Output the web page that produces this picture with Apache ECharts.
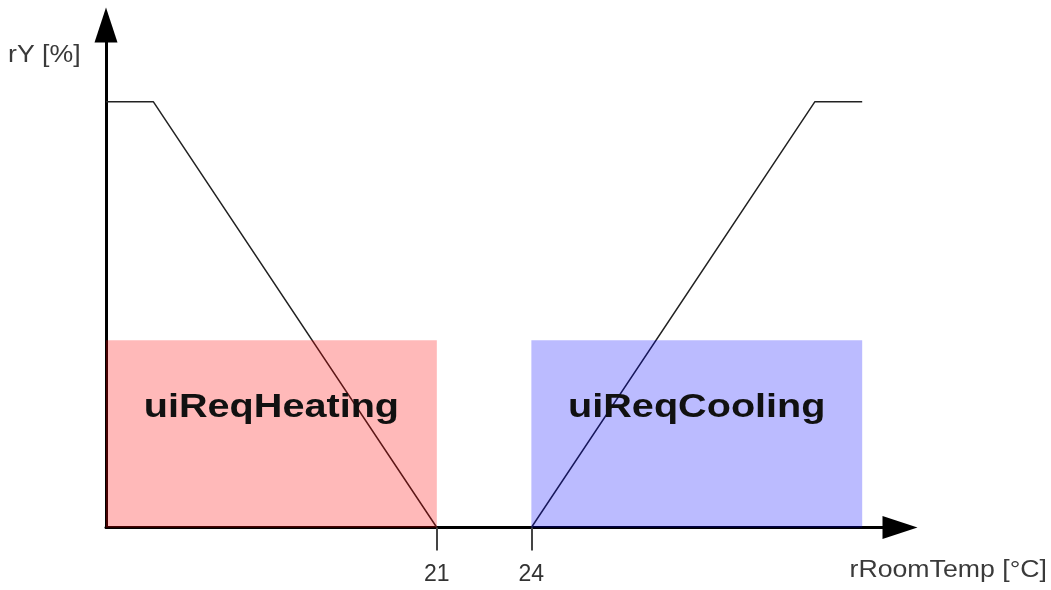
<!DOCTYPE html>
<html><head><meta charset="utf-8">
<script src="https://cdn.jsdelivr.net/npm/echarts@6/dist/echarts.min.js"></script>
<style>html,body{margin:0;padding:0;background:#fff}#c{width:1051px;height:590px}</style>
</head><body><div id="c"></div>
<script>
// ---- data ----
const xTicks = [21, 24];
const heatingX = [10.5, 12, 21];
const heatingY = [100, 100, 0];
const coolingX = [24, 33, 34.5];
const coolingY = [0, 100, 100];
const zoneNames = ['uiReqHeating', 'uiReqCooling'];
const zoneFrom = [10.5, 24];
const zoneTo = [21, 34.5];
const zoneTop = [44, 44];
const xName = 'rRoomTemp [°C]';
const yName = 'rY [%]';

const zoneColors = ['rgba(255,0,0,0.275)', 'rgba(0,0,255,0.268)'];
const FONT = "'Liberation Sans', Arial, sans-serif";

const chart = echarts.init(document.getElementById('c'), null, {renderer: 'canvas'});
chart.setOption({
  animation: false,
  backgroundColor: '#fff',
  grid: {left: 106, top: 25, width: 794, height: 502.5, containLabel: false},
  xAxis: {
    type: 'value', min: 10.5, max: 35.7,
    splitLine: {show: false},
    axisLine: {show: true, onZero: false, lineStyle: {color: '#000', width: 3},
      symbol: ['none', 'triangle'], symbolSize: [23, 35]},
    axisTick: {show: true, customValues: xTicks, length: 23, lineStyle: {color: '#444', width: 2}},
    axisLabel: {show: true, customValues: xTicks, margin: 36, fontSize: 23, color: '#333', fontFamily: FONT}
  },
  yAxis: {
    type: 'value', min: 0, max: 118,
    splitLine: {show: false},
    axisLine: {show: true, onZero: false, lineStyle: {color: '#000', width: 3},
      symbol: ['none', 'triangle'], symbolSize: [23, 35]},
    axisTick: {show: false},
    axisLabel: {show: false}
  },
  graphic: [
    {type: 'text', x: 8, y: 56, scaleX: 1.16,
      style: {text: yName, font: '23px ' + FONT, fill: '#3a3a3a', align: 'left', verticalAlign: 'middle'}},
    {type: 'text', x: 1047, y: 571, scaleX: 1.16,
      style: {text: xName, font: '23px ' + FONT, fill: '#3a3a3a', align: 'right', verticalAlign: 'middle'}}
  ],
  series: [
    {type: 'line', data: heatingX.map((x, i) => [x, heatingY[i]]), showSymbol: false, z: 2,
      lineStyle: {color: '#222', width: 1.5}},
    {type: 'line', data: coolingX.map((x, i) => [x, coolingY[i]]), showSymbol: false, z: 2,
      lineStyle: {color: '#222', width: 1.5}},
    {type: 'custom', z: 3, clip: false,
      data: zoneFrom.map((f, i) => [f, zoneTo[i], zoneTop[i], i]),
      encode: {x: [0, 1], y: 2},
      renderItem: function (params, api) {
        const idx = api.value(3);
        const p0 = api.coord([api.value(0), 0]);
        const p1 = api.coord([api.value(1), api.value(2)]);
        const h = p0[1] - p1[1];
        return {type: 'group', children: [
          {type: 'rect', shape: {x: p0[0], y: p1[1], width: p1[0] - p0[0], height: h},
            style: {fill: zoneColors[idx]}},
          {type: 'text', z2: 10, x: (p0[0] + p1[0]) / 2, y: p1[1] + h * 0.36, scaleX: 1.165,
            style: {text: zoneNames[idx], x: 0, y: 0,
            align: 'center', verticalAlign: 'middle', font: 'bold 34px ' + FONT, fill: '#111'}}
        ]};
      }
    }
  ]
});
</script></body></html>
